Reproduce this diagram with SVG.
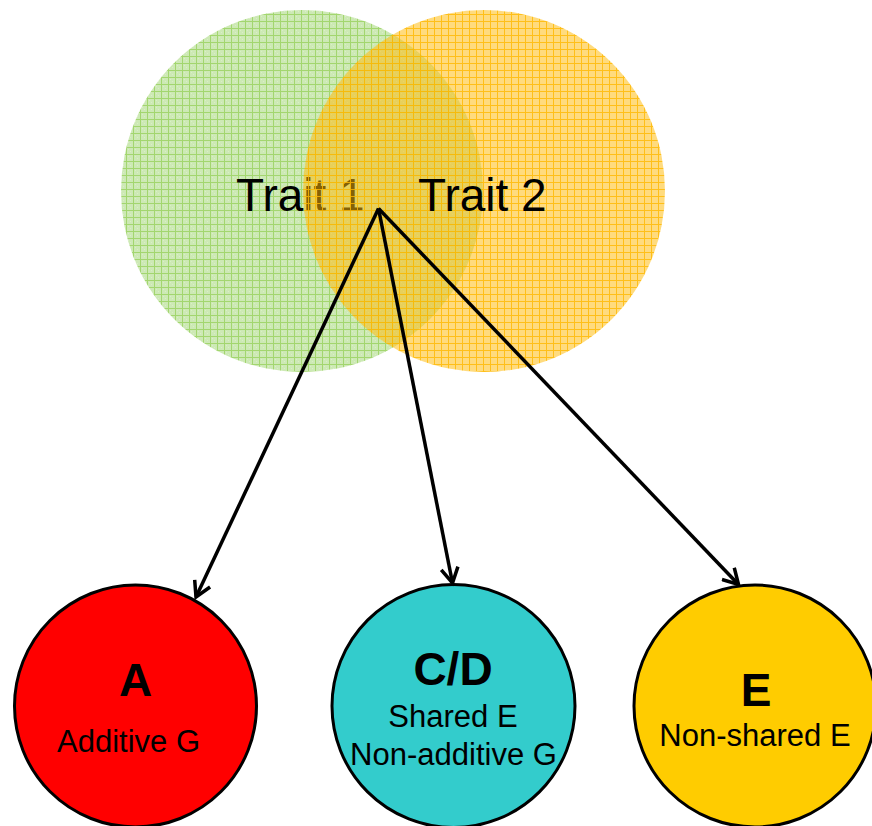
<svg xmlns="http://www.w3.org/2000/svg" width="872" height="826" viewBox="0 0 872 826">
  <style>
    .trait { font-family: "Liberation Sans", Arial, sans-serif; font-size: 46px; fill: #000; }
    .big { font-family: "Liberation Sans", Arial, sans-serif; font-size: 46px; font-weight: bold; fill: #000; text-anchor: middle; }
    .sub { font-family: "Liberation Sans", Arial, sans-serif; font-size: 31px; fill: #000; text-anchor: middle; }
    .node { stroke: #000; stroke-width: 3; }
    .link { fill: none; stroke: #000; stroke-width: 3.5; marker-end: url(#arrow); }
  </style>
  <defs>
    <!-- fine grid texture for the two trait circles -->
    <pattern id="gridGreen" x="0" y="0" width="7" height="7" patternUnits="userSpaceOnUse">
      <rect width="7" height="7" fill="#cde9b5"/>
      <rect x="2" y="2" width="1" height="1" fill="#d9efc6"/>
      <rect x="4" y="4" width="1" height="1" fill="#d9efc6"/>
      <rect x="0" y="0" width="7" height="1" fill="#a3d66f"/>
      <rect x="0" y="0" width="1" height="7" fill="#a3d66f"/>
    </pattern>
    <pattern id="gridYellow" x="0" y="0" width="7" height="7" patternUnits="userSpaceOnUse">
      <rect width="7" height="7" fill="rgb(255,186,8)" fill-opacity="0.52"/>
      <rect x="0" y="0" width="7" height="1" fill="rgb(255,185,0)" fill-opacity="0.8"/>
      <rect x="0" y="1" width="1" height="6" fill="rgb(255,185,0)" fill-opacity="0.8"/>
    </pattern>
    <marker id="arrow" viewBox="-18 -10 22 20" markerWidth="22" markerHeight="20" refX="0" refY="0" orient="auto" markerUnits="userSpaceOnUse">
      <path d="M-15,-8.5 L0,0 L-15,8.5" fill="none" stroke="#000" stroke-width="3.5" stroke-linejoin="miter"/>
    </marker>
  </defs>

  <rect width="872" height="826" fill="#fff"/>

  <!-- overlapping trait circles -->
  <g id="trait1">
    <circle cx="302" cy="191" r="181" fill="url(#gridGreen)"/>
    <text class="trait" x="236" y="211">Trait 1</text>
  </g>
  <g id="trait2">
    <circle cx="484" cy="191" r="181" fill="url(#gridYellow)"/>
    <text class="trait" x="418" y="211">Trait 2</text>
  </g>

  <!-- variance components -->
  <g id="node-a">
    <circle class="node" cx="135.5" cy="706" r="121" fill="#ff0000"/>
    <text class="big" x="135.5" y="696">A</text>
    <text class="sub" x="128.5" y="752">Additive G</text>
  </g>
  <g id="node-cd">
    <circle class="node" cx="453.5" cy="706" r="121.5" fill="#33cccc"/>
    <text class="big" x="453" y="685">C/D</text>
    <text class="sub" x="453" y="727">Shared E</text>
    <text class="sub" x="453.5" y="765">Non-additive G</text>
  </g>
  <g id="node-e">
    <circle class="node" cx="755" cy="706" r="121" fill="#ffcc00"/>
    <text class="big" x="756" y="706">E</text>
    <text class="sub" x="755" y="746">Non-shared E</text>
  </g>

  <!-- connectors from the shared region -->
  <g id="connectors">
    <line class="link" x1="378.5" y1="208.5" x2="196" y2="597"/>
    <line class="link" x1="378.5" y1="208.5" x2="452.5" y2="583"/>
    <line class="link" x1="378.5" y1="208.5" x2="738.5" y2="584.5"/>
  </g>
</svg>
